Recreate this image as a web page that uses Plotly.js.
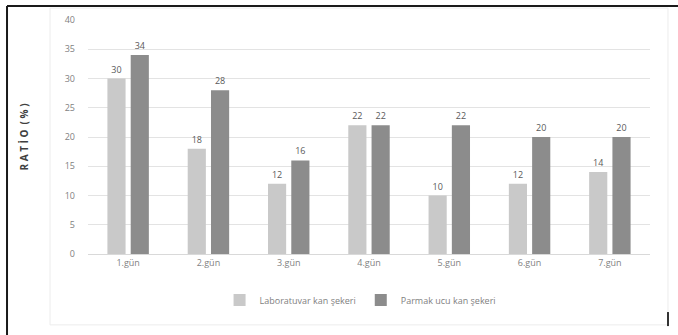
<!DOCTYPE html>
<html>
<head>
<meta charset="utf-8">
<script src="https://cdn.plot.ly/plotly-3.0.1.min.js"></script>
<style>html,body{margin:0;padding:0;background:#fff;}#chart{width:678px;height:335px;}</style>
</head>
<body>
<div id="chart"></div>
<script>
const categories = ["1.gün", "2.gün", "3.gün", "4.gün", "5.gün", "6.gün", "7.gün"];
const labValues = [30, 18, 12, 22, 10, 12, 14];
const fingerValues = [34, 28, 16, 22, 22, 20, 20];
const seriesNames = ["Laboratuvar kan şekeri", "Parmak ucu kan şekeri"];
const yTicks = [0, 5, 10, 15, 20, 25, 30, 35, 40];

const font = "Open Sans, Liberation Sans, sans-serif";
const traces = [
  {type: "bar", name: seriesNames[0], x: categories, y: labValues,
   marker: {color: "#c9c9c9"}, text: labValues.map(String), textposition: "outside",
   cliponaxis: false, textfont: {size: 9, color: "#595959", family: font}},
  {type: "bar", name: seriesNames[1], x: categories, y: fingerValues,
   marker: {color: "#8c8c8c"}, text: fingerValues.map(String), textposition: "outside",
   cliponaxis: false, textfont: {size: 9, color: "#595959", family: font}}
];

const layout = {
  width: 678, height: 335,
  margin: {l: 88, r: 28, t: 20, b: 81},
  paper_bgcolor: "#ffffff", plot_bgcolor: "#ffffff",
  barmode: "group", bargap: 0.42, bargroupgap: 0.22,
  font: {family: font, size: 9, color: "#7f7f7f"},
  xaxis: {type: "category", showgrid: false, zeroline: false, showline: true,
          linecolor: "#d9d9d9", ticks: "", tickfont: {size: 9, color: "#7f7f7f"}},
  yaxis: {range: [0, 40], tickvals: yTicks, showgrid: true, gridcolor: "#e3e3e3",
          zeroline: false, showline: false, ticks: "", ticklabelstandoff: 12,
          tickfont: {size: 9, color: "#7f7f7f"},
          title: {text: "R A T İ O  ( % )", font: {size: 10, color: "#404040", family: font, weight: "bold"}, standoff: 34}},
  showlegend: true,
  legend: {orientation: "h", x: 0.485, xanchor: "center", y: -0.135, yanchor: "top",
           font: {size: 9, color: "#7f7f7f"}, itemwidth: 30},
  shapes: [
    {type: "rect", xref: "paper", yref: "paper", x0: -0.0676, x1: 1.032, y0: -0.303, y1: 1.051,
     line: {color: "#ececec", width: 1}},
    {type: "line", xref: "paper", yref: "paper", x0: -0.1441, x1: 1.06, y0: 1.0598, y1: 1.0598,
     line: {color: "#1a1a1a", width: 2}},
    {type: "line", xref: "paper", yref: "paper", x0: -0.1441, x1: -0.1441, y0: 1.0598, y1: -0.36,
     line: {color: "#1a1a1a", width: 2}},
    {type: "line", xref: "paper", yref: "paper", x0: 1.032, x1: 1.032, y0: -0.248, y1: -0.308,
     line: {color: "#333333", width: 2}}
  ]
};

Plotly.newPlot("chart", traces, layout, {displayModeBar: false, staticPlot: true});
</script>
</body>
</html>
